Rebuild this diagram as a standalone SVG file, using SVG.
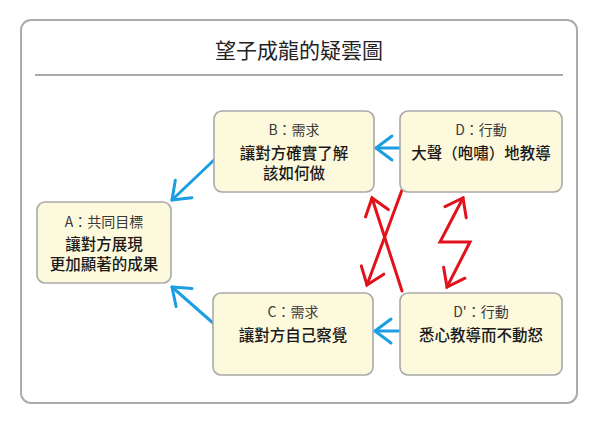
<svg xmlns="http://www.w3.org/2000/svg" width="596" height="428" viewBox="0 0 596 428">
<defs>
<style>
.frame{fill:#ffffff;stroke:#ababab;stroke-width:2}
.node{fill:#fdf9dc;stroke:#a9a9a9;stroke-width:1.6}
.lbl{font-family:"Noto Sans CJK TC","Noto Sans",sans-serif;font-size:14px;fill:#3a3a3a;text-anchor:middle}
.main{font-family:"Noto Sans CJK TC","Noto Sans",sans-serif;font-size:15.5px;font-weight:500;fill:#1a1a1a;text-anchor:middle}
.title{font-family:"Noto Sans CJK TC","Noto Sans",sans-serif;font-size:21px;fill:#222;text-anchor:middle}
.blue{fill:none;stroke:#1c9fe2;stroke-width:3;stroke-linecap:round;stroke-linejoin:round}
.red{fill:none;stroke:#e2121c;stroke-width:3;stroke-linecap:round;stroke-linejoin:miter}
</style>
<marker id="ab" markerUnits="userSpaceOnUse" markerWidth="40" markerHeight="40" refX="0" refY="0" viewBox="-20 -20 40 40" orient="auto-start-reverse" overflow="visible">
<path d="M -16 -12 L 0 0 L -16 12" fill="none" stroke="#1c9fe2" stroke-width="3" stroke-linecap="round" stroke-linejoin="round"/>
</marker>
<marker id="ar" markerUnits="userSpaceOnUse" markerWidth="40" markerHeight="40" refX="0" refY="0" viewBox="-20 -20 40 40" orient="auto-start-reverse" overflow="visible">
<path d="M -16 -12 L 0 0 L -16 12" fill="none" stroke="#e2121c" stroke-width="3" stroke-linecap="round" stroke-linejoin="miter"/>
</marker>
</defs>
<rect x="0" y="0" width="596" height="428" fill="#ffffff"/>
<rect class="frame" x="21" y="20" width="556" height="383" rx="10"/>
<text class="title" x="299" y="58">望子成龍的疑雲圖</text>
<line x1="35" y1="75" x2="563" y2="75" stroke="#aaaaaa" stroke-width="2"/>

<g id="connectors">
<path class="blue" d="M 214 160 L 172 200" marker-end="url(#ab)"/>
<path class="blue" d="M 213 323 L 172 287" marker-end="url(#ab)"/>
<path class="blue" d="M 400 148 L 376 148" marker-end="url(#ab)"/>
<path class="blue" d="M 400 331 L 375 331" marker-end="url(#ab)"/>
<path class="red" d="M 402 291 L 372 198" marker-end="url(#ar)"/>
<path class="red" d="M 402 190 L 367 285" marker-end="url(#ar)"/>
<path class="red" d="M 447 287 L 470 242 L 440 242 L 463 198" marker-start="url(#ar)" marker-end="url(#ar)"/>
</g>

<g id="nodeA">
<rect class="node" x="37" y="202" width="134" height="81" rx="8"/>
<text class="lbl" x="104" y="227">A：共同目標</text>
<text class="main" x="104" y="250">讓對方展現</text>
<text class="main" x="104" y="270">更加顯著的成果</text>
</g>
<g id="nodeB">
<rect class="node" x="214" y="111" width="160" height="81" rx="8"/>
<text class="lbl" x="294" y="135">B：需求</text>
<text class="main" x="294" y="159">讓對方確實了解</text>
<text class="main" x="294" y="179">該如何做</text>
</g>
<g id="nodeC">
<rect class="node" x="213" y="293" width="160" height="82" rx="8"/>
<text class="lbl" x="293" y="317">C：需求</text>
<text class="main" x="293" y="341">讓對方自己察覺</text>
</g>
<g id="nodeD">
<rect class="node" x="400" y="111" width="162" height="81" rx="8"/>
<text class="lbl" x="481" y="135">D：行動</text>
<text class="main" x="481" y="159">大聲（咆嘯）地教導</text>
</g>
<g id="nodeD2">
<rect class="node" x="400" y="293" width="162" height="82" rx="8"/>
<text class="lbl" x="481" y="317">D'：行動</text>
<text class="main" x="481" y="341">悉心教導而不動怒</text>
</g>
</svg>
